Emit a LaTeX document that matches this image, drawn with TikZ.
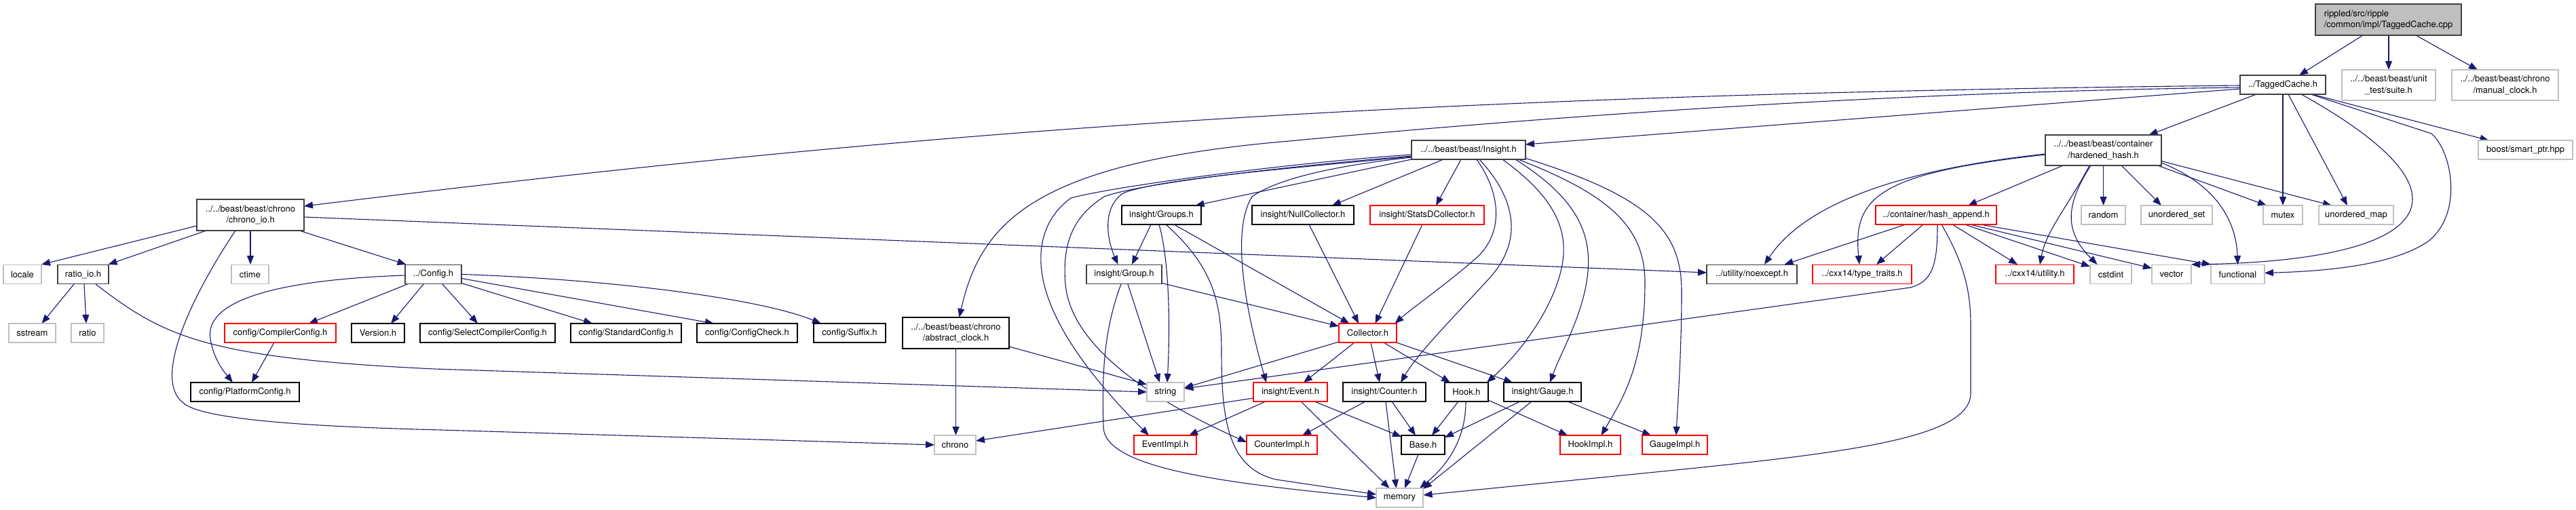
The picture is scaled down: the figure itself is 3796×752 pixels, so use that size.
\documentclass[tikz,border=0pt]{standalone}
\usepackage{fontspec}
\setmainfont{TeX Gyre Heros}
\usetikzlibrary{arrows.meta,calc}
\definecolor{edgec}{HTML}{191970}
\definecolor{extc}{HTML}{BFBFBF}
\definecolor{dgr}{HTML}{404040}
\definecolor{rootfill}{HTML}{BFBFBF}
\pgfdeclarelayer{bg}
\pgfdeclarelayer{edges}
\pgfsetlayers{bg,edges,main}
\begin{document}
\begin{tikzpicture}[x=1pt,y=-1pt,
 every node/.style={font=\fontsize{13}{16.5}\selectfont, inner sep=0pt, outer sep=0pt, minimum height=28pt},
 docbox/.style={draw=black, line width=1.2pt, fill=white},
 dkbox/.style={draw=dgr, line width=1.6pt, fill=white},
 extbox/.style={draw=extc, line width=1.3pt, fill=white},
 redbox/.style={draw=red, line width=1.2pt, fill=white},
 rootbox/.style={draw=dgr, line width=1.6pt, fill=rootfill},
 tall/.style={minimum height=45pt, align=center},
 conn/.style={draw=edgec, line width=1.1pt, -{Triangle[length=13pt,width=10pt]}}
]
\begin{pgfonlayer}{bg}
\fill[white] (0,0) rectangle (3796,752);
\end{pgfonlayer}
\useasboundingbox (0,0) rectangle (3796,752);

% row 0
\node[rootbox, minimum width=215pt, minimum height=46pt, align=left] (root) at (3519.5,29) {rippled/src/ripple\\/common/impl/TaggedCache.cpp};
% row 1
\node[dkbox, minimum width=126pt] (tc) at (3364,125) {../TaggedCache.h};
\node[extbox, tall, minimum width=138pt] (suite) at (3520,125.5) {../../beast/beast/unit\\\_test/suite.h};
\node[extbox, tall, minimum width=157pt] (manual) at (3691.5,125.5) {../../beast/beast/chrono\\/manual\_clock.h};
% row 2
\node[dkbox, minimum width=168pt] (insight) at (2164,221) {../../beast/beast/Insight.h};
\node[dkbox, tall, minimum width=171pt] (hardened) at (3099.5,221.5) {../../beast/beast/container\\/hardened\_hash.h};
\node[extbox, minimum width=139pt] (boost) at (3721.5,221) {boost/smart\_ptr.hpp};
% row 3
\node[dkbox, tall, minimum width=158pt, minimum height=46pt] (chronoio) at (369,317) {../../beast/beast/chrono\\/chrono\_io.h};
\node[docbox, minimum width=117pt] (groups) at (1711.5,317) {insight/Groups.h};
\node[docbox, minimum width=150pt] (nullc) at (1920,317) {insight/NullCollector.h};
\node[redbox, minimum width=168pt] (statsd) at (2103,317) {insight/StatsDCollector.h};
\node[redbox, minimum width=178pt] (hashappend) at (2853,317) {../container/hash\_append.h};
\node[extbox, minimum width=65pt] (random) at (3099.5,317) {random};
\node[extbox, minimum width=105pt] (uset) at (3207.5,317) {unordered\_set};
\node[extbox, minimum width=58pt] (mutex) at (3364,317) {mutex};
\node[extbox, minimum width=110pt] (umap) at (3472,317) {unordered\_map};
% row 4
\node[extbox, minimum width=56pt] (locale) at (33,404.5) {locale};
\node[dkbox, minimum width=75pt] (ratioio) at (122.5,404.5) {ratio\_io.h};
\node[extbox, minimum width=55pt] (ctime) at (368.5,404.5) {ctime};
\node[dkbox, minimum width=83pt] (config) at (638.5,404.5) {../Config.h};
\node[dkbox, minimum width=111pt] (group) at (1656.5,404.5) {insight/Group.h};
\node[dkbox, minimum width=133pt] (noexcept) at (2581.5,404.5) {../utility/noexcept.h};
\node[redbox, minimum width=146pt] (typetraits) at (2744,404.5) {../cxx14/type\_traits.h};
\node[redbox, minimum width=115pt] (utility) at (2998.5,404.5) {../cxx14/utility.h};
\node[extbox, minimum width=61pt] (cstdint) at (3110.5,404.5) {cstdint};
\node[extbox, minimum width=58pt] (vector) at (3200,404.5) {vector};
\node[extbox, minimum width=79pt] (functional) at (3297.5,404.5) {functional};
% row 5
\node[extbox, minimum width=69pt] (sstream) at (47.5,491) {sstream};
\node[extbox, minimum width=48pt] (ratio) at (129,491) {ratio};
\node[redbox, minimum width=164pt] (compiler) at (413,491) {config/CompilerConfig.h};
\node[docbox, minimum width=78pt] (version) at (557,491) {Version.h};
\node[docbox, minimum width=199pt] (selectcc) at (718.5,491) {config/SelectCompilerConfig.h};
\node[docbox, minimum width=163pt] (standard) at (922.5,491) {config/StandardConfig.h};
\node[docbox, minimum width=148pt] (configcheck) at (1101,491) {config/ConfigCheck.h};
\node[docbox, minimum width=106pt] (suffix) at (1252,491) {config/Suffix.h};
\node[docbox, tall, minimum width=157pt, minimum height=46pt] (abstract) at (1408.5,491) {../../beast/beast/chrono\\/abstract\_clock.h};
\node[redbox, minimum width=85pt] (collector) at (2015.5,491) {Collector.h};
% row 6
\node[docbox, minimum width=160pt] (platform) at (361,578) {config/PlatformConfig.h};
\node[extbox, minimum width=55pt] (string) at (1717.5,578) {string};
\node[redbox, minimum width=109pt] (event) at (1901.5,578) {insight/Event.h};
\node[docbox, minimum width=122pt] (counter) at (2040,578) {insight/Counter.h};
\node[docbox, minimum width=64pt] (hook) at (2161,578) {Hook.h};
\node[docbox, minimum width=114pt] (gauge) at (2273,578) {insight/Gauge.h};
% row 7
\node[extbox, minimum width=61pt] (chrono) at (1407.5,656) {chrono};
\node[redbox, minimum width=92pt] (eventimpl) at (1717,656) {EventImpl.h};
\node[redbox, minimum width=104pt] (counterimpl) at (1889,656) {CounterImpl.h};
\node[docbox, minimum width=64pt] (base) at (2097,656) {Base.h};
\node[redbox, minimum width=89pt] (hookimpl) at (2343.5,656) {HookImpl.h};
\node[redbox, minimum width=96pt] (gaugeimpl) at (2468,656) {GaugeImpl.h};
% row 8
\node[extbox, minimum width=69pt] (memory) at (2062.5,734) {memory};

\begin{pgfonlayer}{edges}
% root
\draw[conn] ($(root)+(-37.5,23)$) -- ($(tc)+(24,-14)$);
\draw[conn] ($(root)+(0.5,23)$) -- ($(suite)+(0,-22.5)$);
\draw[conn] ($(root)+(40.5,23)$) -- ($(manual)+(-40.5,-22.5)$);
% TaggedCache.h
\draw[conn] ($(tc)+(-63,1)$) .. controls (2000,140) and (1300,200) .. ($(chronoio)+(79,-13)$);
\draw[conn] ($(tc)+(-63,4)$) .. controls (2800,135) and (2300,170) .. (1900,208) .. controls (1520,240) and (1445,330) .. ($(abstract)+(5,-23)$);
\draw[conn] ($(tc)+(-63,6)$) -- ($(insight)+(84,-8)$);
\draw[conn] ($(tc)+(-39,14)$) -- ($(hardened)+(67,-22.5)$);
\draw[conn] ($(tc)+(0,14)$) -- ($(mutex)+(0,-14)$);
\draw[conn] ($(tc)+(8,14)$) -- ($(umap)+(-13,-14)$);
\draw[conn] ($(tc)+(43,14)$) -- ($(boost)+(-54,-14)$);
\draw[conn] ($(tc)+(27,14)$) .. controls (3680,300) and (3560,385) .. ($(vector)+(29,-14.5)$);
\draw[conn] ($(tc)+(41,14)$) -- (3583,197) .. controls (3615,225) and (3630,320) .. (3575,358) .. controls (3520,393) and (3420,400) .. ($(functional)+(39.5,-2)$);
% chrono_io.h
\draw[conn] ($(chronoio)+(-79,16)$) -- ($(locale)+(28,-14.5)$);
\draw[conn] ($(chronoio)+(-65,23)$) -- ($(ratioio)+(37,-14.5)$);
\draw[conn] ($(chronoio)+(0,23)$) -- ($(ctime)+(0.5,-14.5)$);
\draw[conn] ($(chronoio)+(72,23)$) -- ($(config)+(-40,-14.5)$);
\draw[conn] ($(chronoio)+(-22,23)$) .. controls (280,440) and (225,560) .. (270,594) .. controls (300,622) and (500,630) .. (650,634) -- ($(chrono)+(-30.5,0)$);
\draw[conn] ($(chronoio)+(79,3)$) -- ($(noexcept)+(-66.5,-2.5)$);
% ratio_io.h
\draw[conn] ($(ratioio)+(-13.5,14.5)$) -- ($(sstream)+(14,-14)$);
\draw[conn] ($(ratioio)+(1.5,14.5)$) -- ($(ratio)+(-2,-14)$);
\draw[conn] ($(ratioio)+(18.5,14.5)$) .. controls (240,495) and (300,528) .. (640,544) -- ($(string)+(-27.5,0)$);
% Config.h
\draw[conn] ($(config)+(-38,14.5)$) -- ($(compiler)+(42,-14)$);
\draw[conn] ($(config)+(-14.5,14.5)$) -- ($(version)+(19,-14)$);
\draw[conn] ($(config)+(-41.5,1.5)$) .. controls (420,412) and (300,440) .. (310,500) .. controls (315,530) and (330,548) .. ($(platform)+(-18,-14)$);
\draw[conn] ($(config)+(13.5,14.5)$) -- ($(selectcc)+(-14.5,-14)$);
\draw[conn] ($(config)+(41.5,13)$) -- ($(standard)+(-49.5,-14)$);
\draw[conn] ($(config)+(41.5,6)$) -- ($(configcheck)+(-49,-14)$);
\draw[conn] ($(config)+(41.5,0)$) .. controls (900,412) and (1120,440) .. ($(suffix)+(-42,-14)$);
\draw[conn] ($(compiler)+(-9,14)$) -- ($(platform)+(10,-14)$);
% abstract_clock.h
\draw[conn] ($(abstract)+(78.5,20)$) -- ($(string)+(-27.5,-11)$);
\draw[conn] ($(abstract)+(0,23)$) -- ($(chrono)+(1,-14)$);
% Insight.h
\draw[conn] ($(insight)+(-84,14)$) -- ($(groups)+(50,-14)$);
\draw[conn] ($(insight)+(-37,14)$) -- ($(nullc)+(43,-14)$);
\draw[conn] ($(insight)+(-11,14)$) -- ($(statsd)+(13,-14)$);
\draw[conn] ($(insight)+(12,14)$) .. controls (2215,290) and (2215,350) .. (2170,385) .. controls (2130,420) and (2080,455) .. ($(collector)+(40,-14)$);
\draw[conn] ($(insight)+(16,14)$) .. controls (2240,300) and (2240,360) .. (2195,410) .. controls (2140,470) and (2090,520) .. ($(counter)+(24,-14)$);
\draw[conn] ($(insight)+(50,14)$) .. controls (2290,290) and (2315,340) .. (2300,400) .. controls (2285,460) and (2240,520) .. ($(hook)+(30,-14)$);
\draw[conn] ($(insight)+(69,14)$) .. controls (2320,290) and (2345,340) .. (2340,400) .. controls (2335,460) and (2300,520) .. ($(gauge)+(11,-14)$);
\draw[conn] ($(insight)+(73,14)$) .. controls (2380,290) and (2425,340) .. (2424,420) .. controls (2423,540) and (2390,590) .. ($(hookimpl)+(16,-14)$);
\draw[conn] ($(insight)+(83,12)$) .. controls (2430,290) and (2478,340) .. (2478,430) .. controls (2478,520) and (2472,600) .. ($(gaugeimpl)+(2,-14)$);
\draw[conn] ($(insight)+(-84,7)$) .. controls (1900,240) and (1640,275) .. (1578,292) .. controls (1540,320) and (1530,360) .. (1535,400) .. controls (1545,480) and (1620,570) .. ($(eventimpl)+(-24,-14)$);
\draw[conn] ($(insight)+(-84,9)$) .. controls (1900,245) and (1680,270) .. (1627,290) .. controls (1580,320) and (1565,360) .. (1570,420) .. controls (1580,520) and (1720,600) .. ($(counterimpl)+(-52,-4)$);
\draw[conn] ($(insight)+(-84,10)$) .. controls (1900,248) and (1700,265) .. (1655,285) .. controls (1625,305) and (1630,350) .. ($(group)+(-9,-14.5)$);
\draw[conn] ($(insight)+(-84,11)$) .. controls (1960,245) and (1880,265) .. (1845,290) .. controls (1820,330) and (1825,420) .. ($(event)+(-35.5,-14)$);
% Groups.h
\draw[conn] ($(groups)+(-15.5,14)$) -- ($(group)+(11.5,-14.5)$);
\draw[conn] ($(groups)+(-3.5,14)$) .. controls (1722,380) and (1725,470) .. ($(string)+(2.5,-14)$);
\draw[conn] ($(groups)+(6.5,14)$) .. controls (1790,395) and (1800,450) .. (1800,520) .. controls (1800,620) and (1810,690) .. (1880,707) -- ($(memory)+(-34.5,-5)$);
\draw[conn] ($(groups)+(18.5,14)$) -- ($(collector)+(-27,-14)$);
% Group.h
\draw[conn] ($(group)+(5.5,14.5)$) -- ($(string)+(-8.5,-14)$);
\draw[conn] ($(group)+(55.5,13)$) -- ($(collector)+(-42.5,-10)$);
\draw[conn] ($(group)+(-4.5,14.5)$) .. controls (1625,490) and (1624,560) .. (1626,630) .. controls (1628,690) and (1800,712) .. ($(memory)+(-34.5,0)$);
% collectors
\draw[conn] ($(nullc)+(9,14)$) -- ($(collector)+(-13.5,-14)$);
\draw[conn] ($(statsd)+(-7,14)$) -- ($(collector)+(11,-14)$);
% Collector.h
\draw[conn] ($(collector)+(-42.5,13)$) -- ($(string)+(27.5,-6)$);
\draw[conn] ($(collector)+(-19.5,14)$) -- ($(event)+(19.5,-14)$);
\draw[conn] ($(collector)+(4.5,14)$) -- ($(counter)+(-7,-14)$);
\draw[conn] ($(collector)+(23.5,14)$) -- ($(hook)+(-24,-14)$);
\draw[conn] ($(collector)+(42,14)$) -- ($(gauge)+(-44,-14)$);
% Event.h
\draw[conn] ($(event)+(-54.5,9)$) -- ($(chrono)+(30.5,-6)$);
\draw[conn] ($(event)+(-36.5,14)$) -- ($(eventimpl)+(35,-14)$);
\draw[conn] ($(event)+(35.5,14)$) -- ($(base)+(-32,-12)$);
\draw[conn] ($(event)+(15.5,14)$) -- ($(memory)+(-15,-14)$);
% Counter.h
\draw[conn] ($(counter)+(-28,14)$) -- ($(counterimpl)+(30,-14)$);
\draw[conn] ($(counter)+(2,14)$) -- ($(memory)+(-5,-14)$);
\draw[conn] ($(counter)+(11,14)$) -- ($(base)+(-11,-14)$);
% Hook.h
\draw[conn] ($(hook)+(-12,14)$) -- ($(base)+(13,-14)$);
\draw[conn] ($(hook)+(-1,14)$) .. controls (2160,640) and (2140,680) .. ($(memory)+(29.5,-14)$);
\draw[conn] ($(hook)+(32,12)$) -- ($(hookimpl)+(-33.5,-14)$);
% Gauge.h
\draw[conn] ($(gauge)+(-33,14)$) -- ($(base)+(32,-11)$);
\draw[conn] ($(gauge)+(-16,14)$) -- ($(memory)+(34.5,-13)$);
\draw[conn] ($(gauge)+(37,14)$) -- ($(gaugeimpl)+(-35,-14)$);
% Base.h
\draw[conn] ($(base)+(-7,14)$) -- ($(memory)+(7.5,-14)$);
% hardened_hash.h
\draw[conn] ($(hardened)+(-85.5,5.5)$) .. controls (2800,250) and (2660,300) .. ($(noexcept)+(18.5,-14.5)$);
\draw[conn] ($(hardened)+(-85.5,6.5)$) .. controls (2770,255) and (2730,290) .. ($(typetraits)+(-4,-14.5)$);
\draw[conn] ($(hardened)+(-59.5,22.5)$) -- ($(hashappend)+(47,-14)$);
\draw[conn] ($(hardened)+(-20.5,22.5)$) .. controls (3050,300) and (3015,340) .. ($(utility)+(7.5,-14.5)$);
\draw[conn] ($(hardened)+(-18.5,22.5)$) .. controls (3045,300) and (3040,340) .. ($(cstdint)+(-20,-14.5)$);
\draw[conn] ($(hardened)+(0,22.5)$) -- ($(random)+(0,-14)$);
\draw[conn] ($(hardened)+(26.5,22.5)$) -- ($(uset)+(-22.5,-14)$);
\draw[conn] ($(hardened)+(80,22.5)$) -- ($(mutex)+(-24,-14)$);
\draw[conn] ($(hardened)+(85.5,16)$) -- ($(umap)+(-36,-14)$);
\draw[conn] ($(hardened)+(85.5,18.5)$) .. controls (3260,270) and (3295,320) .. ($(functional)+(0,-14.5)$);
% hash_append.h
\draw[conn] ($(hashappend)+(-45,14)$) -- ($(noexcept)+(48,-14.5)$);
\draw[conn] ($(hashappend)+(-19,14)$) -- ($(typetraits)+(21,-14.5)$);
\draw[conn] ($(hashappend)+(2,14)$) .. controls (2855,390) and (2848,415) .. (2815,424) -- ($(string)+(28,-5)$);
\draw[conn] ($(hashappend)+(8,14)$) .. controls (2895,390) and (2904,430) .. (2904,480) -- (2904,580) .. controls (2904,650) and (2700,670) .. (2400,700) -- ($(memory)+(35,-4)$);
\draw[conn] ($(hashappend)+(24,14)$) -- ($(utility)+(-25.5,-14.5)$);
\draw[conn] ($(hashappend)+(42,14)$) -- ($(cstdint)+(-30.5,-11.5)$);
\draw[conn] ($(hashappend)+(50,14)$) -- ($(vector)+(-29,-9)$);
\draw[conn] ($(hashappend)+(65,14)$) -- ($(functional)+(-39.5,-14.5)$);
\end{pgfonlayer}
\end{tikzpicture}
\end{document}
